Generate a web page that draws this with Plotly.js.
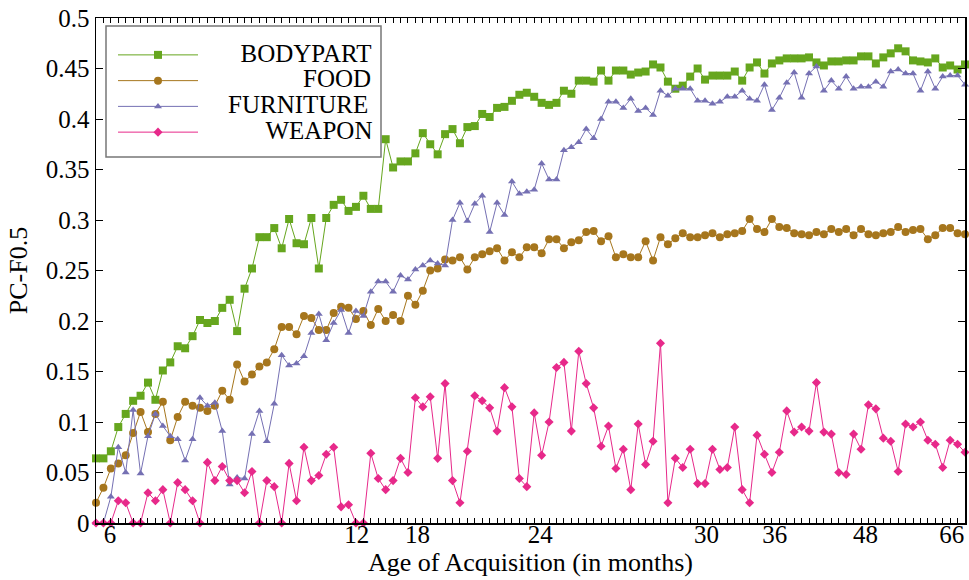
<!DOCTYPE html>
<html>
<head>
<meta charset="utf-8">
<script src="https://cdn.plot.ly/plotly-3.0.1.min.js"></script>
<style>html,body{margin:0;padding:0;background:#fff;}#chart{width:969px;height:580px;}</style>
</head>
<body>
<div id="chart"></div>
<script>
// Tick labels of the x axis (Age of Acquisition in months) and their positions (word index)
const tickLabels = ['6', '12', '18', '24', '30', '36', '48', '66'];
const tickPositions = [1.9, 35.1, 43.3, 59.8, 82.2, 91.4, 103.6, 115.2];

const categories = ['BODYPART', 'FOOD', 'FURNITURE', 'WEAPON'];

const bodypart = [0.064,0.064,0.071,0.095,0.108,0.121,0.126,0.139,0.122,0.151,
0.159,0.175,0.173,0.185,0.201,0.198,0.200,0.213,0.221,0.190,
0.232,0.252,0.283,0.283,0.292,0.272,0.301,0.277,0.276,0.302,
0.252,0.302,0.315,0.320,0.309,0.313,0.324,0.311,0.311,0.380,
0.352,0.358,0.358,0.366,0.386,0.375,0.365,0.385,0.390,0.376,
0.392,0.393,0.405,0.402,0.411,0.412,0.418,0.424,0.426,0.422,
0.416,0.414,0.416,0.428,0.425,0.438,0.438,0.437,0.448,0.438,
0.448,0.448,0.444,0.446,0.447,0.454,0.451,0.437,0.430,0.433,
0.442,0.450,0.439,0.443,0.443,0.443,0.447,0.438,0.451,0.456,
0.445,0.455,0.458,0.460,0.460,0.460,0.461,0.456,0.453,0.457,
0.457,0.458,0.458,0.462,0.462,0.455,0.461,0.465,0.470,0.467,
0.458,0.457,0.456,0.460,0.451,0.453,0.449,0.454];

const food = [0.020,0.035,0.054,0.059,0.067,0.089,0.110,0.090,0.108,0.120,
0.082,0.105,0.120,0.116,0.114,0.111,0.116,0.131,0.122,0.157,
0.140,0.147,0.155,0.159,0.172,0.194,0.194,0.187,0.205,0.203,
0.191,0.191,0.208,0.214,0.213,0.202,0.210,0.196,0.212,0.200,
0.206,0.200,0.225,0.216,0.230,0.250,0.252,0.261,0.260,0.263,
0.251,0.263,0.266,0.269,0.272,0.260,0.268,0.263,0.273,0.273,
0.267,0.281,0.281,0.272,0.278,0.280,0.288,0.289,0.279,0.284,
0.263,0.266,0.263,0.263,0.279,0.260,0.283,0.276,0.282,0.287,
0.283,0.283,0.285,0.287,0.283,0.286,0.287,0.289,0.301,0.291,
0.288,0.301,0.293,0.292,0.287,0.286,0.285,0.288,0.286,0.291,
0.288,0.291,0.285,0.291,0.286,0.285,0.287,0.288,0.293,0.288,
0.290,0.291,0.281,0.285,0.292,0.292,0.287,0.286];

const furniture = [0,0,0.026,0.075,0.050,0.112,0.049,0.086,0.108,0.096,
0.086,0.083,0.062,0.083,0.124,0.116,0.119,0.091,0.038,0.045,
0.044,0.088,0.111,0.081,0.118,0.166,0.156,0.158,0.165,0.188,
0.207,0.181,0.198,0.211,0.188,0.210,0.205,0.229,0.239,0.239,
0.229,0.245,0.241,0.251,0.255,0.260,0.257,0.255,0.300,0.317,
0.299,0.316,0.324,0.288,0.317,0.305,0.338,0.326,0.328,0.330,
0.356,0.340,0.340,0.369,0.372,0.377,0.390,0.381,0.400,0.417,
0.417,0.411,0.420,0.408,0.411,0.404,0.428,0.423,0.430,0.430,
0.430,0.418,0.418,0.415,0.417,0.422,0.422,0.428,0.420,0.418,
0.434,0.409,0.421,0.436,0.446,0.421,0.445,0.452,0.428,0.438,
0.430,0.442,0.430,0.432,0.432,0.437,0.432,0.447,0.449,0.445,
0.445,0.428,0.447,0.430,0.442,0.443,0.443,0.434];

const weapon = [0,0,0,0.022,0.020,0,0,0.030,0.022,0.033,
0,0.040,0.033,0.022,0,0.060,0.042,0.056,0.042,0.042,
0.030,0.051,0,0.042,0.036,0,0.059,0.022,0.075,0.042,
0.047,0.068,0.075,0.016,0.018,0,0,0.069,0.044,0.033,
0.042,0.064,0.050,0.124,0.115,0.125,0.064,0.138,0.042,0.020,
0.071,0.126,0.121,0.114,0.091,0.134,0.115,0.044,0.036,0.109,
0.067,0.100,0.154,0.159,0.091,0.170,0.138,0.114,0.076,0.096,
0.054,0.073,0.033,0.098,0.058,0.081,0.178,0.020,0.064,0.055,
0.073,0.039,0.039,0.073,0.053,0.055,0.095,0.033,0.020,0.087,
0.068,0.050,0.070,0.111,0.090,0.095,0.091,0.139,0.090,0.088,
0.050,0.048,0.088,0.073,0.117,0.113,0.084,0.081,0.051,0.098,
0.095,0.100,0.082,0.078,0.055,0.082,0.078,0.070];

const seriesValues = [bodypart, food, furniture, weapon];
const colors = ['#66a61e', '#a6761d', '#7570b3', '#e7298a'];
const symbols = ['square', 'circle', 'triangle-up', 'diamond'];
const sizes = [8, 8, 7, 7];

const FONT = 'Liberation Serif, Times New Roman, serif';
const LEG_SIZE = 25;

// right-align legend names by padding with no-break spaces
const ctx = document.createElement('canvas').getContext('2d');
ctx.font = LEG_SIZE + 'px "Liberation Serif"';
const maxW = Math.max(...categories.map(c => ctx.measureText(c).width)) + 28;
const spW = ctx.measureText('\u00a0').width;
function padName(c) {
  const n = Math.max(0, Math.round((maxW - ctx.measureText(c).width) / spW));
  return '<span style="font-size:' + LEG_SIZE + 'px">' + '\u00a0'.repeat(n) + c + '</span>';
}

const traces = categories.map((c, k) => ({
  x: seriesValues[k].map((_, i) => i),
  y: seriesValues[k],
  type: 'scatter',
  mode: 'lines+markers',
  name: padName(c),
  cliponaxis: false,
  line: {color: colors[k], width: 1},
  marker: {color: colors[k], symbol: symbols[k], size: sizes[k]}
}));
// empty trace so that the labelled overlay axis is drawn
traces.push({x: [], y: [], type: 'scatter', xaxis: 'x2', yaxis: 'y', showlegend: false, hoverinfo: 'skip'});

const nPts = bodypart.length;

const layout = {
  width: 969, height: 580,
  margin: {l: 96, r: 4, t: 18, b: 57},
  paper_bgcolor: '#fff', plot_bgcolor: '#fff',
  font: {family: FONT, size: 25, color: '#000'},
  showlegend: true,
  legend: {
    x: (113 - 96) / 869, y: (523 - 37) / 505, xanchor: 'left', yanchor: 'top',
    bgcolor: 'rgba(0,0,0,0)', borderwidth: 0,
    font: {family: FONT, size: 17.5, color: '#000'},
    itemwidth: 80, tracegroupgap: 0
  },
  shapes: [{
    type: 'rect', xref: 'paper', yref: 'paper', layer: 'above',
    x0: (106 - 96) / 869, x1: (381 - 96) / 869,
    y0: (523 - 157) / 505, y1: (523 - 26) / 505,
    fillcolor: '#fff', line: {color: '#777', width: 1.5}
  }],
  // main x axis: one tick per word, mirrored on top, no labels
  xaxis: {
    range: [0, nPts - 1],
    tickmode: 'linear', tick0: 0, dtick: 1,
    ticks: 'inside', ticklen: 5, tickwidth: 1, tickcolor: '#000',
    showticklabels: false,
    showline: true, linecolor: '#000', linewidth: 1.5, mirror: 'ticks',
    showgrid: false, zeroline: false
  },
  // overlay x axis carrying the month labels and the title
  xaxis2: {
    overlaying: 'x', side: 'bottom', anchor: 'y',
    range: [0, nPts - 1],
    tickmode: 'array', tickvals: tickPositions, ticktext: tickLabels,
    ticks: '', showline: false, showgrid: false, zeroline: false,
    ticklabelstandoff: -6,
    tickfont: {family: FONT, size: 25},
    title: {text: 'Age of Acquisition (in months)', font: {family: FONT, size: 26}, standoff: 4}
  },
  yaxis: {
    range: [0, 0.5], dtick: 0.05, tick0: 0,
    ticks: 'inside', ticklen: 7, tickwidth: 1, tickcolor: '#000',
    showline: true, linecolor: '#000', linewidth: 1.5, mirror: 'ticks',
    showgrid: false, zeroline: false,
    tickfont: {family: FONT, size: 25},
    title: {text: 'PC-F0.5', font: {family: FONT, size: 26}, standoff: 10}
  }
};

Plotly.newPlot('chart', traces, layout, {displayModeBar: false, staticPlot: true});
</script>
</body>
</html>
